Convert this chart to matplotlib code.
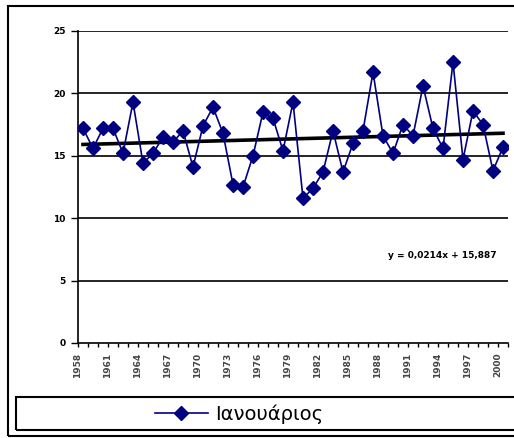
import numpy as np
import matplotlib.pyplot as plt
from matplotlib.patches import Rectangle
from matplotlib.lines import Line2D

years = list(range(1958, 2001))
january = [17.2, 15.6, 17.2, 17.2, 15.2, 19.3, 14.4, 15.2, 16.5, 16.1,
           17.0, 14.1, 17.4, 18.9, 16.8, 12.7, 12.5, 15.0, 18.5, 18.0,
           15.4, 19.3, 11.6, 12.4, 13.7, 17.0, 13.7, 16.0, 17.0, 21.7,
           16.6, 15.2, 17.5, 16.6, 20.6, 17.2, 15.6, 22.5, 14.7, 18.6,
           17.5, 13.8, 15.7]
slope = 0.0214
intercept = 15.887
series_name = 'Ιανουάριος'
yticks = [0, 5, 10, 15, 20, 25]

W, H = 514, 438
fig = plt.figure(figsize=(W / 100, H / 100), dpi=100)

# outer chart frame and legend frame (both run off the right edge)
fig.patches.append(Rectangle((8 / W, 1 - 436 / H), 1.0, (436 - 6) / H,
                             transform=fig.transFigure, fill=False,
                             edgecolor='black', linewidth=1.5))
fig.patches.append(Rectangle((16 / W, 1 - 430 / H), 1.0, (430 - 397) / H,
                             transform=fig.transFigure, fill=False,
                             edgecolor='black', linewidth=1.5))

ax = fig.add_axes([78 / W, 1 - 343 / H, (508 - 78) / W, (343 - 31) / H])

x = np.arange(1, len(january) + 1)
ax.plot(x, january, color='#000080', linewidth=1.2, marker='D',
        markersize=7, markerfacecolor='#000080', markeredgecolor='#000080',
        zorder=4)
ax.plot(x, slope * x + intercept, color='black', linewidth=2.6, zorder=3)

ax.set_xlim(0.5, len(january) + 0.5)
ax.set_ylim(0, 25)

for v in yticks[1:]:
    ax.axhline(v, color='black', linewidth=1.2, zorder=1)

ax.set_yticks(yticks)
ax.set_yticklabels([str(v) for v in yticks], fontsize=6.5, fontweight='bold')
ax.tick_params(axis='y', length=5, width=1, pad=4, direction='out')

# category labels every third year, tick marks between categories
label_pos = x[::3] - 0.5
ax.set_xticks(label_pos)
ax.set_xticklabels([str(years[i]) for i in range(0, len(years), 3)],
                   rotation=90, fontsize=6.5, fontweight='bold', color='#444444')
ax.set_xticks(np.arange(0.5, len(january) + 1, 1), minor=True)
ax.tick_params(axis='x', which='both', length=3, width=1, direction='out', pad=4)

for side in ['top', 'right']:
    ax.spines[side].set_visible(False)
ax.spines['left'].set_linewidth(1.2)
ax.spines['bottom'].set_linewidth(1.2)

ax.text(36.9, 7.0, 'y = 0,0214x + %s' % ('%.3f' % intercept).replace('.', ','),
        fontsize=6.5, fontweight='bold', ha='center', va='center')

handle = Line2D([], [], color='#000080', linewidth=1.2, marker='D',
                markersize=7, markerfacecolor='#000080')
fig.legend([handle], [series_name], loc='center left',
           bbox_to_anchor=(155 / W, 1 - 414 / H), frameon=False,
           fontsize=14, handlelength=2.7, handletextpad=0.4,
           borderpad=0, borderaxespad=0)

fig.savefig('out.png', dpi=100)
